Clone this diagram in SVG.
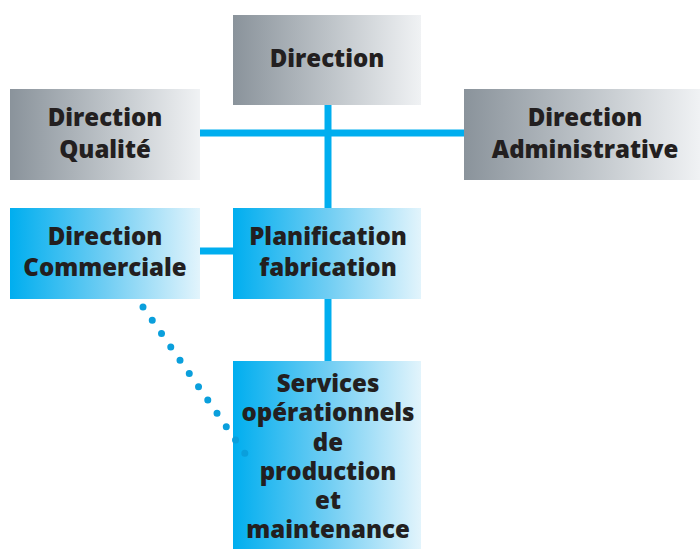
<svg xmlns="http://www.w3.org/2000/svg" width="700" height="549" viewBox="0 0 700 549">
<defs>
<linearGradient id="gray" x1="0" y1="0" x2="1" y2="0">
<stop offset="0" stop-color="#8a939b"/>
<stop offset="0.5" stop-color="#bcc2c7"/>
<stop offset="1" stop-color="#f0f2f4"/>
</linearGradient>
<linearGradient id="blue" x1="0" y1="0" x2="1" y2="0">
<stop offset="0" stop-color="#00aeef"/>
<stop offset="0.5" stop-color="#6fcdf3"/>
<stop offset="1" stop-color="#e2f4fc"/>
</linearGradient>
<style>
.g{fill:url(#gray)}
.b{fill:url(#blue)}
text{font-family:"Open Sans","Noto Sans",sans-serif;font-weight:800;font-size:24px;fill:#231f20;text-anchor:middle}
.ln{stroke:#00aeef;stroke-width:7;fill:none}
.dot{stroke:#0a9fdc;stroke-width:7;stroke-linecap:round;stroke-dasharray:0 16.2;fill:none}
</style>
</defs>
<g id="direction">
<rect class="g" x="233" y="15" width="188" height="90"/>
<text x="327" y="67">Direction</text>
</g>
<g id="qualite">
<rect class="g" x="10" y="89" width="190" height="91"/>
<text x="105" y="126">Direction</text>
<text x="105" y="158">Qualité</text>
</g>
<g id="administrative">
<rect class="g" x="464" y="89" width="236" height="91"/>
<text x="585" y="126">Direction</text>
<text x="585" y="158">Administrative</text>
</g>
<g id="commerciale">
<rect class="b" x="10" y="208" width="190" height="91"/>
<text x="105" y="245">Direction</text>
<text x="105" y="276">Commerciale</text>
</g>
<g id="planification">
<rect class="b" x="233" y="208" width="188" height="91"/>
<text x="328" y="245">Planification</text>
<text x="328" y="276">fabrication</text>
</g>
<g id="services">
<rect class="b" x="233" y="361" width="188" height="188"/>
<text x="328" y="392">Services</text>
<text x="328" y="421">opérationnels</text>
<text x="328" y="451">de</text>
<text x="328" y="480">production</text>
<text x="328" y="509">et</text>
<text x="328" y="538">maintenance</text>
</g>
<g id="connectors">
<line class="ln" x1="200" y1="133" x2="464" y2="133"/>
<line class="ln" x1="328" y1="105" x2="328" y2="208"/>
<line class="ln" x1="200" y1="251" x2="233" y2="251"/>
<line class="ln" x1="328" y1="299" x2="328" y2="361"/>
<path class="dot" d="M143 307 L246 455"/>
</g>
</svg>
